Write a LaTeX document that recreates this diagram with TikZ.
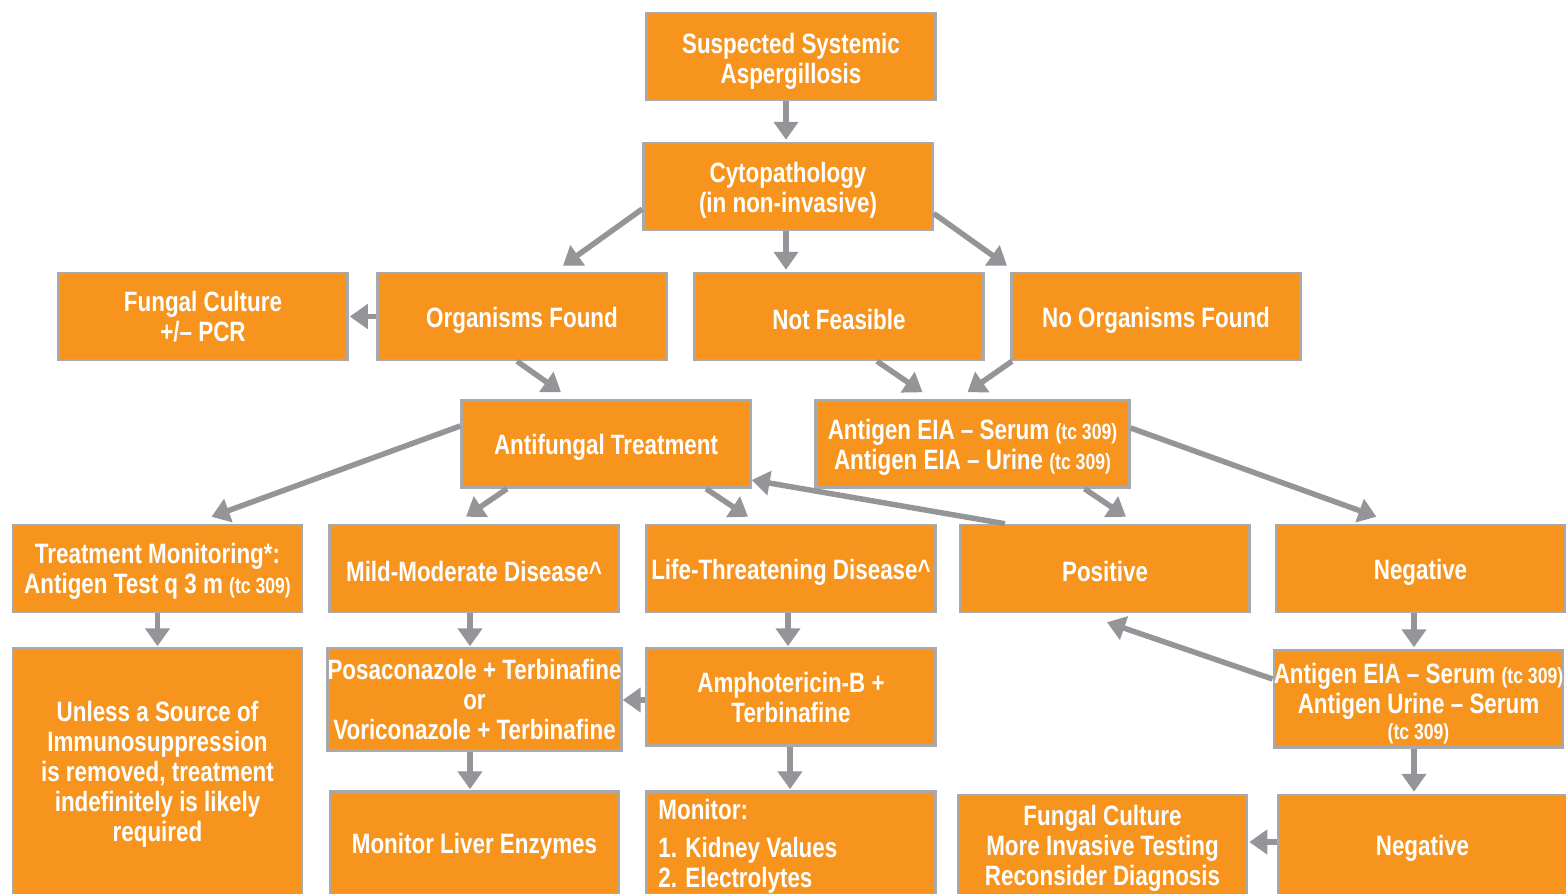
\documentclass[tikz,border=0pt]{standalone}
\usepackage{fontspec}
\newfontfamily\bxfont[FakeStretch=0.8]{Liberation Sans}
\usetikzlibrary{arrows.meta,calc}
\definecolor{boxfill}{HTML}{F7941D}
\definecolor{boxline}{HTML}{A7A9AC}
\definecolor{arrowgray}{HTML}{939598}
\newcommand{\tcref}{{\fontsize{22}{30}\selectfont (tc 309)}}
\newcommand{\topstrut}{\rule{0pt}{27pt}}
\newcommand{\rs}[1]{\rule{0pt}{#1pt}}
\begin{document}
\begin{tikzpicture}[x=1pt,y=-1pt,
  box/.style={draw=boxline,line width=2.5pt,fill=boxfill,text=white,
    font=\bxfont\bfseries\fontsize{28}{30}\selectfont,align=center,inner sep=0pt,
    minimum width=289pt,minimum height=87pt,execute at begin node=\topstrut},
  plain/.style={text=white,font=\bxfont\bfseries\fontsize{28}{30}\selectfont,align=left,inner sep=0pt},
  arr/.style={draw=arrowgray,line width=5.5pt,-{Triangle[width=24pt,length=18pt]}}]
\useasboundingbox (0,0) rectangle (1566,894);
\clip (0,0) rectangle (1566,894);
% nodes
\node[box] (sus) at (791,56.5) {\rs{29}Suspected Systemic\\Aspergillosis};
\node[box] (cyto) at (788,186.5) {\rs{27}Cytopathology\\(in non-invasive)};
\node[box] (fcp) at (203,316.5) {Fungal Culture\\+/– PCR};
\node[box] (org) at (522,316.5) {Organisms Found};
\node[box] (nf) at (839,316.5) {Not Feasible};
\node[box] (norg) at (1156,316.5) {No Organisms Found};
\node[box] (anti) at (606,444) {Antifungal Treatment};
\node[box,minimum width=314pt] (eia) at (972.5,444) {\rs{27}Antigen EIA – Serum \tcref\\Antigen EIA – Urine \tcref};
\node[box] (tm) at (157.5,568.5) {\rs{26}Treatment Monitoring*:\\Antigen Test q 3 m \tcref};
\node[box] (mild) at (474,568.5) {Mild-Moderate Disease\textasciicircum};
\node[box] (life) at (791,568.5) {Life-Threatening Disease\textasciicircum};
\node[box] (pos) at (1105,568.5) {Positive};
\node[box] (neg) at (1420.5,568.5) {Negative};
\node[box,minimum height=247pt] (unl) at (157.5,772) {\rs{25}Unless a Source of\\Immunosuppression\\is removed, treatment\\indefinitely is likely\\required};
\node[box,minimum height=102pt] (posa) at (474.5,699.5) {Posaconazole + Terbinafine\\or\\Voriconazole + Terbinafine};
\node[box,minimum height=97pt] (amph) at (791,697) {Amphotericin-B +\\Terbinafine};
\node[box,minimum height=97pt] (eia2) at (1418.5,699) {\rs{29}Antigen EIA – Serum \tcref\\Antigen Urine – Serum\\[-4pt]\tcref};
\node[box,minimum height=103pt] (liv) at (474.5,843) {Monitor Liver Enzymes};
\node[box,minimum height=103pt,execute at begin node={}] (mon) at (791,843) {};
\node[plain,anchor=north west] (montxt) at ($(mon.north west)+(13,9)$) {Monitor:\\[8pt]1. Kidney Values\\2. Electrolytes};
\node[box,minimum height=100pt] (fc2) at (1102.5,845) {\rs{27}Fungal Culture\\More Invasive Testing\\Reconsider Diagnosis};
\node[box,minimum height=100pt] (neg2) at (1422.5,845) {Negative};
% arrows
\draw[arr] ($(sus.south)+(-5,0)$) -- ($(cyto.north)+(-2,-2)$);
\draw[arr] ($(cyto.west)+(0,22.5)$) -- ($(org.north)+(41,-6)$);
\draw[arr] ($(cyto.south)+(-2,0)$) -- ($(nf.north)+(-53,-2)$);
\draw[arr] ($(cyto.east)+(0,27)$) -- ($(norg.north)+(-149,-6)$);
\draw[arr] (org.west) -- ($(fcp.east)+(1,0)$);
\draw[arr] ($(org.south)+(-5,0)$) -- ($(anti.north)+(-45,-7)$);
\draw[arr] ($(nf.south)+(38,0)$) -- ($(eia.north)+(-50,-7)$);
\draw[arr] ($(norg.south)+(-144,0)$) -- ($(eia.north)+(-5,-7)$);
\draw[arr] ($(anti.west)+(0,-18)$) -- ($(tm.north)+(54,-7)$);
\draw[arr] ($(anti.south)+(-99,0)$) -- ($(mild.north)+(-8,-7)$);
\draw[arr] ($(anti.south)+(100,0)$) -- ($(life.north)+(-43,-7)$);
\draw[arr] ($(pos.north)+(-100,0)$) -- ($(anti.east)+(0,36)$);
\draw[arr] ($(eia.south)+(112,0)$) -- ($(pos.north)+(21,-7)$);
\draw[arr] ($(eia.east)+(0,-16)$) -- ($(neg.north)+(-44,-7)$);
\draw[arr] (tm.south) -- ($(unl.north)+(0,-1)$);
\draw[arr] ($(mild.south)+(-4,0)$) -- ($(posa.north)+(-4.5,-1)$);
\draw[arr] ($(posa.south)+(-4.5,0)$) -- ($(liv.north)+(-4.5,-1)$);
\draw[arr] ($(life.south)+(-3,0)$) -- ($(amph.north)+(-3,-1)$);
\draw[arr] ($(amph.west)+(0,3)$) -- ($(posa.east)+(0,0.5)$);
\draw[arr] ($(amph.south)+(-1,0)$) -- ($(mon.north)+(-1,-1)$);
\draw[arr] ($(neg.south)+(-6.5,0)$) -- ($(eia2.north)+(-4.5,-2)$);
\draw[arr] ($(eia2.west)+(0,-20)$) -- ($(pos.south)+(2,9)$);
\draw[arr] ($(eia2.south)+(-4.5,0)$) -- ($(neg2.north)+(-8.5,-2)$);
\draw[arr] ($(neg2.west)+(0,-3)$) -- ($(fc2.east)+(1,-3)$);
\end{tikzpicture}
\end{document}
